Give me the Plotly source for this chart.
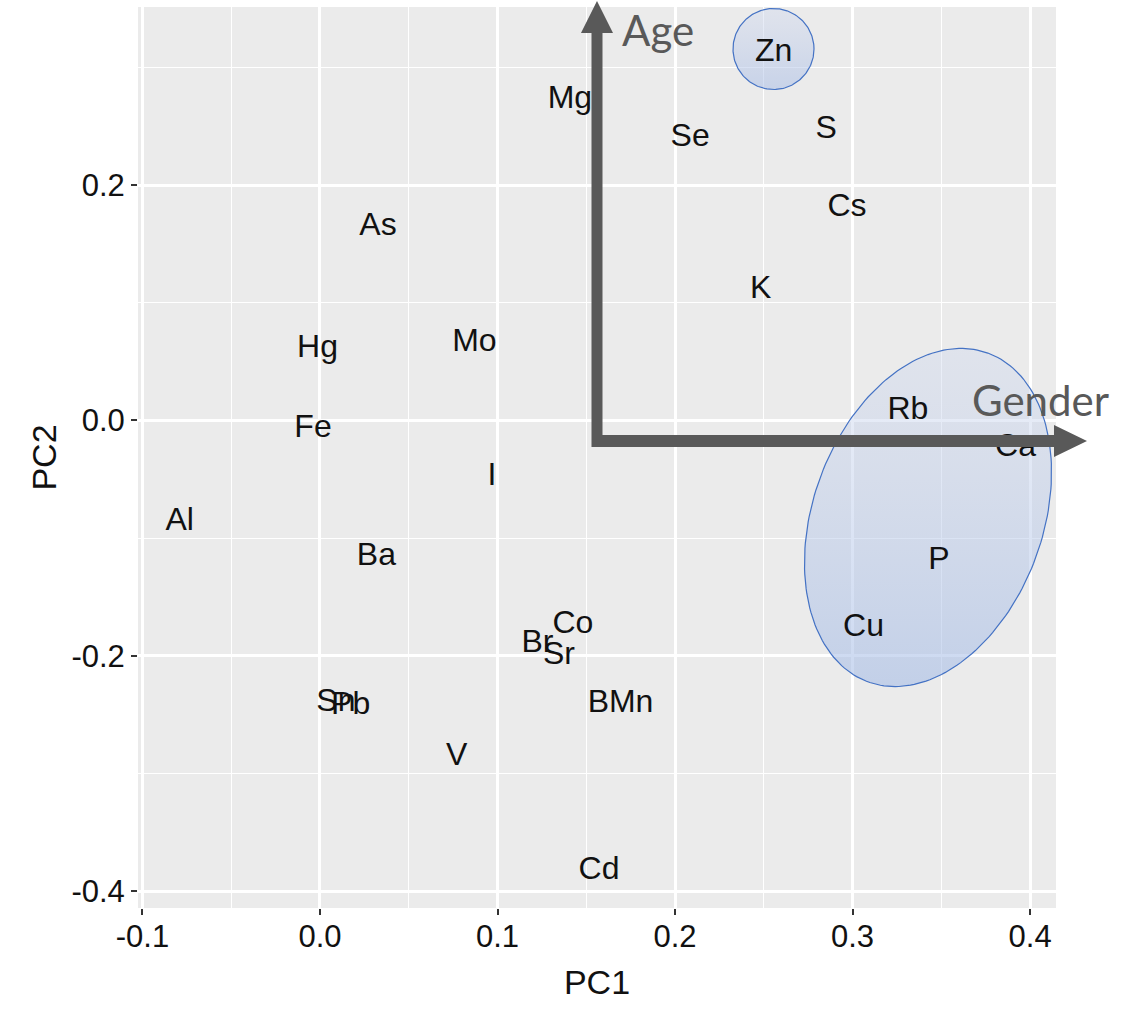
import numpy as np
import plotly.graph_objects as go

# ---------------- data (PCA loadings) ----------------
elements = ["Zn", "Mg", "Se", "S", "Cs", "K", "As", "Hg", "Mo", "Fe", "I", "Al", "Ba",
            "Rb", "Ca", "P", "Cu", "Co", "Br", "Sr", "B", "Mn", "Sn", "Pb", "V", "Cd"]
pc1 = [0.2555, 0.1408, 0.2085, 0.2851, 0.2969, 0.2482, 0.0327, -0.0014, 0.0870, -0.0039,
       0.0969, -0.0790, 0.0318, 0.3312, 0.3918, 0.3487, 0.3062, 0.1425, 0.1225, 0.1346,
       0.1568, 0.1753, 0.0090, 0.0173, 0.0770, 0.1572]
pc2 = [0.3125, 0.2721, 0.2398, 0.2466, 0.1803, 0.1111, 0.1646, 0.0605, 0.0656, -0.0075,
       -0.0483, -0.0865, -0.1162, 0.0078, -0.0232, -0.1196, -0.1766, -0.1740, -0.1902, -0.2001,
       -0.2412, -0.2412, -0.2401, -0.2426, -0.2862, -0.3831]

x_tickvals = [-0.1, 0.0, 0.1, 0.2, 0.3, 0.4]
x_ticktext = ["-0.1", "0.0", "0.1", "0.2", "0.3", "0.4"]
x_minor = [-0.05, 0.05, 0.15, 0.25, 0.35]
y_tickvals = [-0.4, -0.2, 0.0, 0.2]
y_ticktext = ["-0.4", "-0.2", "0.0", "0.2"]
y_minor = [-0.3, -0.1, 0.1, 0.3]

x_title = "PC1"
y_title = "PC2"
arrow_labels = ["Age", "Gender"]

# ---------------- layout geometry ----------------
W, H = 1128, 1016
L, R, T, B = 138, 1056, 7, 908
XR = [-0.1025, 0.4146]
YR = [-0.4144, 0.3513]


def px2data(px, py):
    x = XR[0] + (np.asarray(px) - L) / (R - L) * (XR[1] - XR[0])
    y = YR[0] + (B - np.asarray(py)) / (B - T) * (YR[1] - YR[0])
    return x, y


def px2paper(px, py):
    return (px - L) / (R - L), (B - py) / (B - T)


fig = go.Figure()

# highlighted groups (overlay decoration, defined in pixel space)
t = np.linspace(0, 2 * np.pi, 200)
# ellipse around Rb / Ca / P / Cu
a, b, th = 175.0, 115.0, np.deg2rad(20)
cx, cy = 928.0, 517.5
ex = cx + a * np.cos(t) * np.sin(th) + b * np.sin(t) * np.cos(th)
ey = cy - a * np.cos(t) * np.cos(th) + b * np.sin(t) * np.sin(th)
exd, eyd = px2data(ex, ey)
fig.add_trace(go.Scatter(
    x=exd, y=eyd, mode="lines", fill="toself",
    line=dict(color="#4472C4", width=1.2),
    fillgradient=dict(type="vertical",
                      colorscale=[[0, "rgba(165,188,230,0.58)"], [1, "rgba(208,217,238,0.42)"]]),
    hoverinfo="skip", showlegend=False))

# circle around Zn
ccx, ccy, cr = 773.5, 49.0, 40.5
zx, zy = px2data(ccx + cr * np.cos(t), ccy + cr * np.sin(t))
fig.add_trace(go.Scatter(
    x=zx, y=zy, mode="lines", fill="toself",
    line=dict(color="#4472C4", width=1.2),
    fillgradient=dict(type="vertical",
                      colorscale=[[0, "rgba(170,190,230,0.55)"], [1, "rgba(210,218,238,0.45)"]]),
    hoverinfo="skip", showlegend=False))

# element labels
fig.add_trace(go.Scatter(
    x=pc1, y=pc2, text=elements, mode="text",
    textposition="middle center",
    textfont=dict(family="Liberation Sans, Arial, sans-serif", size=32, color="#111111"),
    cliponaxis=False, hoverinfo="text", showlegend=False))

# ---------------- arrows (Age up, Gender right) ----------------
arrow_color = "#595959"
sw = 11  # shaft width
vx = 597
hy = 441
poly_px = [
    (vx - sw / 2, hy + 6),
    (vx - sw / 2, 33), (581, 33), (vx, 1), (613, 33), (vx + sw / 2, 33),
    (vx + sw / 2, hy - 6),
    (1054, hy - 6), (1054, 425), (1087, hy), (1054, 457), (1054, hy + 6),
]
pts = [px2paper(px, py) for px, py in poly_px]
path = "M " + " L ".join(f"{x:.5f},{y:.5f}" for x, y in pts) + " Z"
fig.add_shape(type="path", path=path, xref="paper", yref="paper",
              fillcolor=arrow_color, line=dict(width=0), layer="above")

ax_, ay_ = px2paper(657.5, 30)
gx_, gy_ = px2paper(1040, 400)
for txt, (xx, yy) in zip(arrow_labels, [(ax_, ay_), (gx_, gy_)]):
    fig.add_annotation(x=xx, y=yy, xref="paper", yref="paper", text=txt,
                       showarrow=False, xanchor="center", yanchor="middle",
                       font=dict(family="Lato, Open Sans, sans-serif", size=42, color="#595959"))

axis_common = dict(
    showline=False, zeroline=False, showgrid=True,
    gridcolor="white", gridwidth=2.6,
    ticks="outside", ticklen=6, tickwidth=2, tickcolor="#333333",
    tickfont=dict(family="Liberation Sans, Arial, sans-serif", size=31, color="#111111"),
    title_font=dict(family="Liberation Sans, Arial, sans-serif", size=34, color="#111111"),
)

fig.update_xaxes(
    range=XR, tickmode="array", tickvals=x_tickvals, ticktext=x_ticktext,
    minor=dict(tickvals=x_minor, showgrid=True, gridcolor="white", gridwidth=1.3, ticks=""),
    ticklabelstandoff=-5,
    title_text=x_title, title_standoff=16, **axis_common)
fig.update_yaxes(
    range=YR, tickmode="array", tickvals=y_tickvals, ticktext=y_ticktext,
    minor=dict(tickvals=y_minor, showgrid=True, gridcolor="white", gridwidth=1.3, ticks=""),
    title_text=y_title, title_standoff=4, **axis_common)

fig.update_layout(
    width=W, height=H,
    margin=dict(l=L, r=W - R, t=T, b=H - B, autoexpand=False),
    plot_bgcolor="#EBEBEB", paper_bgcolor="white",
    showlegend=False,
)

fig.write_html("out.html", config={"displayModeBar": False},
               post_script="document.body.style.margin='0';document.body.style.overflow='hidden';")
